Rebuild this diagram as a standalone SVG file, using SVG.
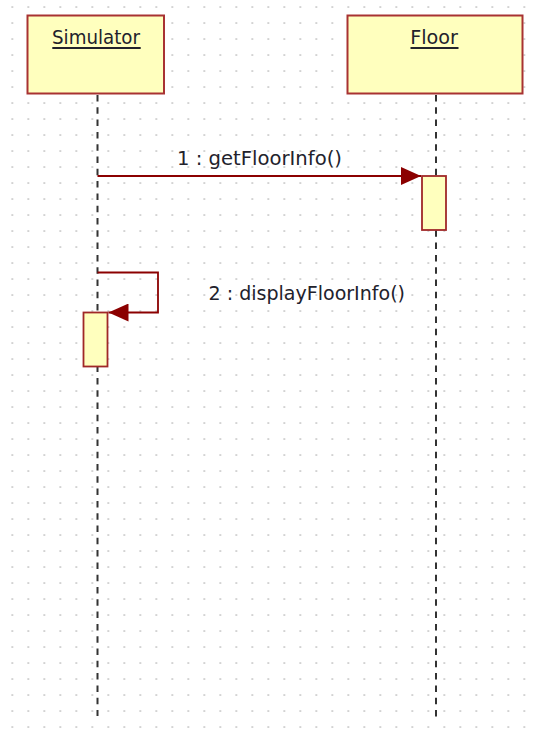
<svg xmlns="http://www.w3.org/2000/svg" width="538" height="730" viewBox="0 0 538 730">
<style>
.obj{fill:#ffffbe;stroke:#a83232;stroke-width:2}
.act{fill:#ffffbe;stroke:#a02828;stroke-width:1.8}
.life{stroke:#333;stroke-width:2;stroke-dasharray:6.5 5.8;fill:none}
.msg{stroke:#8b0000;stroke-width:1.8;fill:none}
.t{font-family:"DejaVu Sans","Liberation Sans",sans-serif;font-size:20px;fill:#22222c}
.ul{stroke:#22222c;stroke-width:1.8}
</style>
<defs>
<pattern id="grid" width="16" height="16" patternUnits="userSpaceOnUse" x="4.3" y="-1">
<rect x="7.2" y="7.2" width="1.7" height="1.7" fill="#c6c6c6"/>
</pattern>
<marker id="ah" viewBox="0 0 20 18" refX="20" refY="9" markerWidth="20" markerHeight="18" markerUnits="userSpaceOnUse" orient="auto">
<path d="M0,0 L20,9 L0,18 Z" fill="#8b0000"/>
</marker>
</defs>
<rect width="538" height="730" fill="#fff"/>
<rect width="538" height="730" fill="url(#grid)"/>
<g id="lifelines">
<line class="life" x1="97.5" y1="95" x2="97.5" y2="716"/>
<line class="life" x1="436" y1="95" x2="436" y2="721"/>
</g>
<g id="Simulator">
<rect class="obj" x="27.5" y="15.5" width="136.5" height="78"/>
<text class="t" x="96" y="44" text-anchor="middle" textLength="88" lengthAdjust="spacingAndGlyphs">Simulator</text>
<line class="ul" x1="52.3" y1="48" x2="140.7" y2="48"/>
</g>
<g id="Floor">
<rect class="obj" x="347.5" y="15.5" width="175" height="78"/>
<text class="t" x="434" y="44" text-anchor="middle" textLength="47.7" lengthAdjust="spacingAndGlyphs">Floor</text>
<line class="ul" x1="410.5" y1="48" x2="458.5" y2="48"/>
</g>
<g id="act-floor">
<rect class="act" x="422" y="176" width="24" height="54"/>
</g>
<g id="act-sim">
<rect class="act" x="83.5" y="312.5" width="24" height="54"/>
</g>
<g id="connectors">
<line class="msg" x1="97.5" y1="176" x2="421" y2="176" marker-end="url(#ah)"/>
<polyline class="msg" points="97.5,272.5 158,272.5 158,312.5 108.5,312.5" marker-end="url(#ah)"/>
</g>
<g id="labels">
<text class="t" x="177" y="165" textLength="165" lengthAdjust="spacingAndGlyphs">1 : getFloorInfo()</text>
<text class="t" x="208.5" y="300" textLength="196.5" lengthAdjust="spacingAndGlyphs">2 : displayFloorInfo()</text>
</g>
</svg>
